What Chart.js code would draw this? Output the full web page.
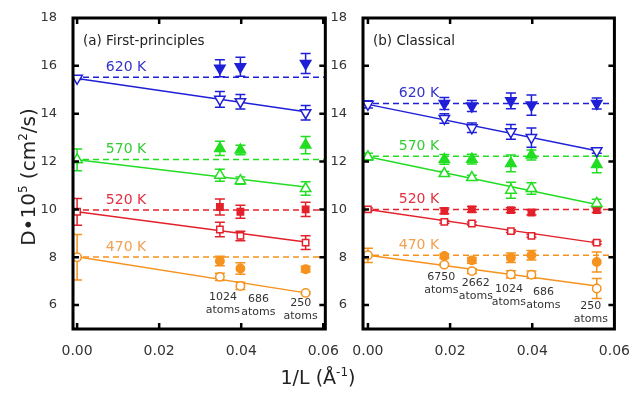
<!DOCTYPE html>
<html><head><meta charset="utf-8">
<script src="https://cdn.jsdelivr.net/npm/chart.js@4.4.1/dist/chart.umd.min.js"></script>
<style>
html,body{margin:0;padding:0;background:#fff;}
#wrap{position:relative;width:636px;height:393px;overflow:hidden;font-family:"DejaVu Sans",sans-serif;color:#222;}
canvas{position:absolute;top:0;}
#c1{left:0;}
#c2{left:330px;}
#xt{position:absolute;left:0;top:364px;width:636px;text-align:center;font-size:19px;line-height:26px;}
#yt{position:absolute;left:-72px;top:164px;width:200px;height:26px;line-height:26px;text-align:center;font-size:20px;transform:rotate(-90deg);}
.sup{font-size:12px;position:relative;top:-8px;}
</style></head>
<body><div id="wrap">
<canvas id="c1" width="345" height="393"></canvas>
<canvas id="c2" width="306" height="393"></canvas>
<div id="yt">D•10<span class="sup">5</span> (cm<span class="sup">2</span>/s)</div>
<div id="xt">1/L (Å<span class="sup">-1</span>)</div>
</div>
<script>
// ---------- data ----------
const xFP = [0.0348, 0.0398, 0.0557];                 // 1024, 686, 250 atoms
const xCL = [0.0186, 0.0253, 0.0348, 0.0398, 0.0557]; // 6750, 2662, 1024, 686, 250 atoms
const atomsFP = ['1024', '686', '250'];
const atomsCL = ['6750', '2662', '1024', '686', '250'];
const tempLabels = ['620 K', '570 K', '520 K', '470 K'];
const yTicks = [6, 8, 10, 12, 14, 16, 18];
const xTicks = [0, 0.02, 0.04, 0.06];

// (a) First-principles, rows = 620, 570, 520, 470 K
const fpCorr = [[15.90, 15.96, 16.10], [12.55, 12.48, 12.69], [10.10, 9.90, 10.00], [7.84, 7.53, 7.50]];
const fpCorrErr = [[0.36, 0.40, 0.42], [0.30, 0.20, 0.36], [0.33, 0.27, 0.30], [0.20, 0.24, 0.12]];
const fpRaw = [[14.60, 14.50, 14.04], [11.43, 11.20, 10.87], [9.16, 8.89, 8.61], [7.18, 6.80, 6.51]];
const fpRawErr = [[0.33, 0.30, 0.30], [0.25, 0.15, 0.28], [0.30, 0.20, 0.29], [0.15, 0.15, 0.05]];
const fpExt = [15.48, 12.07, 9.90, 8.00];
const fpExtErr = [0.05, 0.45, 0.56, 0.95];
const fpRef = [15.52, 12.09, 9.97, 8.01];
const fpFit0 = [15.47, 12.07, 9.90, 8.02];
const fpFitEnd = [14.08, 10.94, 8.64, 6.51];

// (b) Classical, rows = 620, 570, 520, 470 K
const clCorr = [[14.43, 14.32, 14.54, 14.36, 14.43], [12.09, 12.10, 11.92, 12.27, 11.88], [9.94, 10.00, 9.97, 9.87, 9.97], [8.05, 7.87, 7.98, 8.08, 7.80]];
const clCorrErr = [[0.25, 0.23, 0.33, 0.42, 0.23], [0.20, 0.20, 0.35, 0.21, 0.35], [0.12, 0.12, 0.10, 0.10, 0.10], [0.10, 0.12, 0.20, 0.20, 0.42]];
const clRaw = [[13.80, 13.41, 13.24, 13.00, 12.45], [11.50, 11.33, 10.80, 10.87, 10.25], [9.48, 9.41, 9.09, 8.89, 8.61], [7.69, 7.42, 7.28, 7.27, 6.69]];
const clRawErr = [[0.20, 0.20, 0.31, 0.40, 0.10], [0.08, 0.10, 0.33, 0.24, 0.17], [0.06, 0.06, 0.06, 0.06, 0.06], [0.05, 0.10, 0.15, 0.15, 0.42]];
const clExt = [14.39, 12.20, 10.00, 8.08];
const clExtErr = [0.15, 0.15, 0.06, 0.30];
const clRef = [14.43, 12.22, 9.99, 8.08];
const clFit0 = [14.39, 12.20, 10.00, 8.08];
const clFitEnd = [12.45, 10.20, 8.60, 6.80];

// ---------- styles / layout ----------
const colors = ['#1f1fd8', '#22dd22', '#e3212b', '#f6921e'];
const labelColors = ['#3333cc', '#33cc33', '#e33040', '#f2a050'];
const markers = [
  {style: 'triangle', rot: 180, r: 6},
  {style: 'triangle', rot: 0, r: 6},
  {style: 'rect', rot: 0, r: 4.5},
  {style: 'circle', rot: 0, r: 4.2}
];
// atom label layout: [pixel offset from point x, y value of first line]
const atomLayoutFP = [[3, 6.33], [18, 6.24], [-5, 6.07]];
const atomLayoutCL = [[-3, 7.16], [4, 6.91], [-2, 6.66], [12, 6.54], [-6, 5.95]];

function buildDatasets(xs, corr, corrErr, raw, rawErr, ext, extErr, ref, fit0, fitEnd, xmin, xmax) {
  const ds = [];
  for (let t = 0; t < 4; t++) {
    const c = colors[t], m = markers[t];
    ds.push({data: [{x: xmin, y: ref[t]}, {x: xmax, y: ref[t]}], showLine: true, borderColor: c, borderWidth: 1.5, borderDash: [6, 4], pointRadius: 0, order: 3});
    ds.push({data: [{x: 0, y: fit0[t]}, {x: xs[xs.length - 1], y: fitEnd[t]}], showLine: true, borderColor: c, borderWidth: 1.5, pointRadius: 0, order: 2});
    ds.push({data: xs.map((x, i) => ({x, y: corr[t][i]})), errors: corrErr[t], showLine: false,
      pointStyle: m.style, rotation: m.rot, pointRadius: m.r, pointBackgroundColor: c, pointBorderColor: c, borderColor: c, pointBorderWidth: 1.5, order: 1});
    ds.push({data: [{x: 0, y: ext[t]}].concat(xs.map((x, i) => ({x, y: raw[t][i]}))), errors: [extErr[t]].concat(rawErr[t]), showLine: false,
      pointStyle: m.style, rotation: m.rot, pointRadius: m.r, pointBackgroundColor: '#ffffff', pointBorderColor: c, borderColor: c, pointBorderWidth: 1.5, order: 1});
  }
  return ds;
}

const errorBars = {
  id: 'errorBars',
  beforeDatasetsDraw(chart) {
    const ctx = chart.ctx, ys = chart.scales.y;
    chart.data.datasets.forEach((ds, i) => {
      if (!ds.errors) return;
      const meta = chart.getDatasetMeta(i);
      meta.data.forEach((pt, j) => {
        const e = ds.errors[j];
        if (!e) return;
        const v = ds.data[j].y;
        const y1 = ys.getPixelForValue(v + e), y2 = ys.getPixelForValue(v - e);
        ctx.save();
        ctx.strokeStyle = ds.borderColor; ctx.lineWidth = 1.5;
        ctx.beginPath();
        ctx.moveTo(pt.x, y1); ctx.lineTo(pt.x, y2);
        ctx.moveTo(pt.x - 5, y1); ctx.lineTo(pt.x + 5, y1);
        ctx.moveTo(pt.x - 5, y2); ctx.lineTo(pt.x + 5, y2);
        ctx.stroke();
        ctx.restore();
      });
    });
  }
};

const panelDecor = {
  id: 'panelDecor',
  afterDraw(chart, args, opts) {
    const ctx = chart.ctx, a = chart.chartArea, xs = chart.scales.x, ys = chart.scales.y;
    ctx.save();
    // temperature labels
    ctx.font = '14px "DejaVu Sans"';
    ctx.textAlign = 'left'; ctx.textBaseline = 'middle';
    opts.refs.forEach((r, t) => {
      ctx.fillStyle = labelColors[t];
      ctx.fillText(tempLabels[t], xs.getPixelForValue(opts.labelX), ys.getPixelForValue(r) - 10);
    });
    // panel title
    ctx.font = '13.5px "DejaVu Sans"';
    ctx.fillStyle = '#222';
    ctx.fillText(opts.title, a.left + 10, a.top + 23);
    // atoms labels
    ctx.font = '11px "DejaVu Sans"';
    ctx.textAlign = 'center'; ctx.fillStyle = '#333';
    opts.atoms.forEach((n, i) => {
      const px = xs.getPixelForValue(opts.xs[i]) + opts.layout[i][0];
      const py = ys.getPixelForValue(opts.layout[i][1]);
      ctx.fillText(n, px, py);
      ctx.fillText('atoms', px, py + 12.5);
    });
    // frame
    ctx.strokeStyle = '#000'; ctx.lineWidth = 3;
    ctx.strokeRect(a.left, a.top, a.right - a.left, a.bottom - a.top);
    // inward ticks
    ctx.lineWidth = 2.5;
    ctx.beginPath();
    yTicks.forEach(v => {
      const y = ys.getPixelForValue(v);
      if (y < a.top + 2) return;
      ctx.moveTo(a.left, y); ctx.lineTo(a.left + 6, y);
      ctx.moveTo(a.right, y); ctx.lineTo(a.right - 6, y);
    });
    xTicks.forEach(v => {
      const x = xs.getPixelForValue(v);
      if (x > a.right - 2) return;
      ctx.moveTo(x, a.bottom); ctx.lineTo(x, a.bottom - 6);
      ctx.moveTo(x, a.top); ctx.lineTo(x, a.top + 6);
    });
    ctx.stroke();
    ctx.restore();
  }
};

function makeChart(id, datasets, xmin, xmax, yAxisWidth, padRight, decor) {
  return new Chart(document.getElementById(id), {
    type: 'scatter',
    data: {datasets},
    plugins: [errorBars, panelDecor],
    options: {
      responsive: false, animation: false, devicePixelRatio: 1,
      layout: {padding: {left: 0, right: padRight, top: 18, bottom: 0}},
      plugins: {legend: {display: false}, tooltip: {enabled: false}, panelDecor: decor},
      scales: {
        x: {
          type: 'linear', min: xmin, max: xmax,
          grid: {display: false}, border: {display: false},
          afterBuildTicks: s => { s.ticks = xTicks.filter(v => v <= xmax + 1e-9).map(v => ({value: v})); },
          afterFit: s => { s.height = 64; },
          ticks: {autoSkip: false, maxRotation: 0, padding: 6, color: '#333', font: {family: 'DejaVu Sans', size: 14},
            callback: v => Number(v).toFixed(2)}
        },
        y: {
          type: 'linear', min: 5, max: 18,
          grid: {display: false}, border: {display: false},
          afterBuildTicks: s => { s.ticks = yTicks.map(v => ({value: v})); },
          afterFit: s => { s.width = yAxisWidth; },
          ticks: {autoSkip: false, padding: 8, color: '#333', font: {family: 'DejaVu Sans', size: 13},
            callback: v => String(v)}
        }
      }
    }
  });
}

makeChart('c1',
  buildDatasets(xFP, fpCorr, fpCorrErr, fpRaw, fpRawErr, fpExt, fpExtErr, fpRef, fpFit0, fpFitEnd, -0.001, 0.0605),
  -0.001, 0.0605, 73, 17,
  {title: '(a) First-principles', refs: fpRef, labelX: 0.007, atoms: atomsFP, xs: xFP, layout: atomLayoutFP});

makeChart('c2',
  buildDatasets(xCL, clCorr, clCorrErr, clRaw, clRawErr, clExt, clExtErr, clRef, clFit0, clFitEnd, -0.0012, 0.06),
  -0.0012, 0.06, 33, 21,
  {title: '(b) Classical', refs: clRef, labelX: 0.0075, atoms: atomsCL, xs: xCL, layout: atomLayoutCL});
</script>
</body></html>
